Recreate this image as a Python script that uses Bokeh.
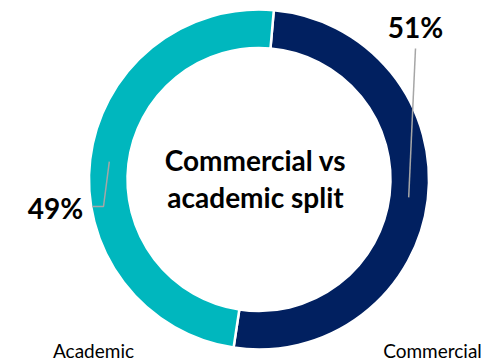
import numpy as np
from bokeh.plotting import figure
from bokeh.models import ColumnDataSource
from bokeh.core.properties import value
from bokeh.embed import file_html
from bokeh.resources import INLINE

# Data
categories = ["Commercial", "Academic"]
shares = [51, 49]
pct_labels = ["51%", "49%"]
colors = ["#012060", "#00B7BE"]
title_lines = ["Commercial vs", "academic split"]

W, H = 495, 363
CX, CY = 258.5, H - 179.0
R_OUT, R_IN = 170.0, 131.5
START_DEG = 5.0  # clockwise offset from 12 o'clock

fracs = np.array(shares, dtype=float) / sum(shares)
cum = np.concatenate([[0.0], np.cumsum(fracs)]) * 360.0 + START_DEG
# clockwise-from-top -> Bokeh (counter-clockwise from +x)
start = np.radians(90.0 - cum[:-1])
end = np.radians(90.0 - cum[1:])
mid_cw = np.radians((cum[:-1] + cum[1:]) / 2.0)

src = ColumnDataSource(dict(cat=categories, start=start, end=end, color=colors))

p = figure(width=W, height=H, x_range=(0, W), y_range=(0, H),
           output_backend="svg", toolbar_location=None,
           min_border=0, outline_line_color=None)
p.axis.visible = False
p.grid.visible = False
p.background_fill_color = "white"
p.border_fill_color = "white"

p.annular_wedge(x=CX, y=CY, inner_radius=R_IN, outer_radius=R_OUT,
                start_angle="start", end_angle="end", direction="clock",
                fill_color="color", line_color="white", line_width=2.5,
                source=src)

# leader lines from the ring midpoints to the percentage labels
r_mid = (R_IN + R_OUT) / 2.0
mx = CX + r_mid * np.sin(mid_cw)
my = CY + r_mid * np.cos(mid_cw)
lead_col = "#A6A6A6"
p.line(x=[mx[0], 415], y=[my[0], H - 48], line_color=lead_col, line_width=1.5)
p.line(x=[mx[1], 103, 92], y=[my[1], H - 206, H - 206], line_color=lead_col, line_width=1.5)

font = value("Lato")
p.text(x=[415, 55], y=[H - 26, H - 207], text=pct_labels,
       text_font=font, text_font_style="bold", text_font_size="28px",
       text_align="center", text_baseline="middle", text_color="#000000")

p.text(x=[255, 255], y=[H - 159, H - 196], text=title_lines,
       text_font=font, text_font_style="bold", text_font_size="28px",
       text_align="center", text_baseline="alphabetic", text_color="#000000")

p.text(x=[93, 432], y=[H - 350, H - 350], text=["Academic", "Commercial"],
       text_font=font, text_font_size="19px",
       text_align="center", text_baseline="alphabetic", text_color="#000000")

open("out.html", "w").write(file_html(p, INLINE))
